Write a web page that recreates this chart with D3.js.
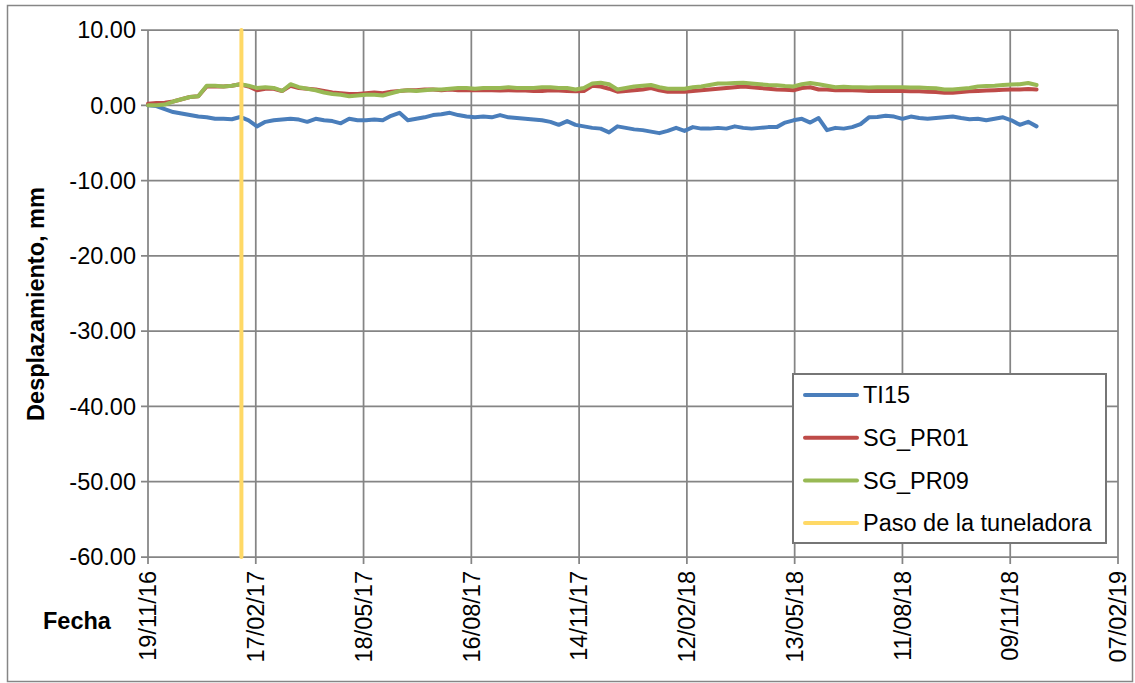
<!DOCTYPE html>
<html>
  <head>
    <meta charset="utf-8" />
    <script src="https://cdn.jsdelivr.net/npm/d3@7"></script>
    <title>Desplazamiento</title>
    <style>
      body { margin: 0; background: #fff; }
      text { font-family: "Liberation Sans", Arial, sans-serif; fill: #000; }
      .grid line { stroke: #858585; stroke-width: 1.75px; }
      .series { fill: none; stroke-width: 4px; stroke-linejoin: round; stroke-linecap: round; }
    </style>
  </head>
  <body>

    <svg id="chart" width="1135" height="683"></svg>

    <script>

      // first reading and spacing of the weekly readings (days)
      var startDate = "2016-11-19";
      var stepDays = 7;

      var ti15 = [
        0.0, -0.1, -0.5, -0.9, -1.1, -1.3, -1.5, -1.6, -1.8, -1.8,
        -1.85, -1.55, -2.0, -2.8, -2.2, -2.0, -1.9, -1.8, -1.9, -2.2,
        -1.8, -2.0, -2.1, -2.4, -1.8, -2.0, -2.0, -1.9, -2.0, -1.4,
        -1.0, -2.0, -1.8, -1.6, -1.3, -1.2, -1.0, -1.3, -1.5, -1.6,
        -1.5, -1.6, -1.3, -1.6, -1.7, -1.8, -1.9, -2.0, -2.2, -2.6,
        -2.1, -2.6, -2.8, -3.0, -3.1, -3.6, -2.8, -3.0, -3.2, -3.3,
        -3.5, -3.7, -3.4, -3.0, -3.4, -2.9, -3.1, -3.1, -3.0, -3.1,
        -2.8, -3.0, -3.1, -3.0, -2.9, -2.9, -2.3, -2.0, -1.8, -2.3,
        -1.7, -3.3, -3.0, -3.1, -2.9, -2.5, -1.6, -1.55, -1.4, -1.5,
        -1.8, -1.5, -1.7, -1.8, -1.7, -1.6, -1.5, -1.7, -1.85, -1.8,
        -2.0, -1.8, -1.6, -2.0, -2.6, -2.2, -2.8
      ];

      var sgPr01 = [
        0.2, 0.3, 0.35, 0.5, 0.8, 1.1, 1.2, 2.5, 2.5, 2.5,
        2.6, 2.8, 2.5, 2.0, 2.2, 2.2, 1.9, 2.6, 2.3, 2.2,
        2.1, 1.9, 1.7, 1.6, 1.5, 1.5, 1.6, 1.7, 1.6, 1.8,
        1.9, 2.0, 2.0, 2.1, 2.1, 2.0, 2.1, 2.0, 2.0, 2.0,
        2.0, 2.0, 1.95, 2.0, 1.95, 1.95, 1.9, 1.9, 2.0, 1.95,
        1.9, 1.85, 1.9, 2.6, 2.5, 2.2, 1.8, 1.9, 2.0, 2.1,
        2.3, 2.0, 1.8, 1.8, 1.8, 1.9, 2.0, 2.1, 2.2, 2.3,
        2.4, 2.5, 2.4, 2.3, 2.2, 2.1, 2.05, 2.0, 2.3, 2.4,
        2.1, 2.1, 2.0, 2.0, 2.0, 1.95, 1.9, 1.9, 1.9, 1.9,
        1.9, 1.85, 1.85, 1.8, 1.75, 1.65, 1.65, 1.75, 1.85, 1.9,
        1.95, 2.0, 2.05, 2.1, 2.1, 2.15, 2.1
      ];

      var sgPr09 = [
        0.0, 0.0, 0.1, 0.5, 0.8, 1.1, 1.2, 2.6, 2.6, 2.5,
        2.6, 2.8, 2.6, 2.3, 2.4, 2.3, 1.9, 2.8, 2.4, 2.2,
        2.0, 1.7, 1.5, 1.4, 1.2, 1.3, 1.4, 1.4, 1.3, 1.6,
        1.9, 2.0, 1.9, 2.0, 2.1, 2.1, 2.2, 2.3, 2.3, 2.2,
        2.3, 2.3, 2.3, 2.4, 2.3, 2.3, 2.3, 2.4, 2.4, 2.3,
        2.3, 2.1, 2.3, 2.9, 3.0, 2.8, 2.1, 2.3, 2.5, 2.6,
        2.7, 2.4, 2.2, 2.2, 2.2, 2.4, 2.5, 2.7, 2.9, 2.9,
        2.95, 3.0, 2.9, 2.8, 2.7, 2.65, 2.55, 2.5, 2.8, 2.95,
        2.8, 2.6, 2.4, 2.45, 2.4, 2.4, 2.35, 2.4, 2.4, 2.4,
        2.4, 2.35, 2.35, 2.3, 2.25, 2.1, 2.1, 2.2, 2.3, 2.5,
        2.55, 2.6, 2.7, 2.75, 2.8, 2.95, 2.7
      ];

      // passage of the tunnel boring machine
      var pasoDate = "2017-02-05";
      var pasoValues = [10, -60];

      var seriesNames = ["TI15", "SG_PR01", "SG_PR09", "Paso de la tuneladora"];
      var seriesColors = ["#4a7ebb", "#be4b48", "#98b954", "#ffd966"];

      var xTickDays = [0, 90, 180, 270, 360, 450, 540, 630, 720, 810];
      var yTicks = [10, 0, -10, -20, -30, -40, -50, -60];

      var svg = d3.select("#chart");
      var fontSize = 23.5;

      var plotLeft = 148, plotRight = 1118, plotTop = 30, plotBottom = 557;

      var parse = d3.utcParse("%Y-%m-%d");
      var start = parse(startDate);

      var x = d3.scaleUtc()
        .domain([start, d3.utcDay.offset(start, 810)])
        .range([plotLeft, plotRight]);

      var y = d3.scaleLinear()
        .domain([-60, 10])
        .range([plotBottom, plotTop]);

      function toPoints(values) {
        return values.map(function(v, i) {
          return { date: d3.utcDay.offset(start, i * stepDays), value: v };
        });
      }

      // Excel style number: plain hyphen for negatives
      function fmtNum(d) {
        return d3.format(".2f")(d).replace("\u2212", "-");
      }

      // outer chart border
      svg.append("rect")
        .attr("x", 7.5)
        .attr("y", 5.5)
        .attr("width", 1125)
        .attr("height", 676)
        .attr("fill", "none")
        .attr("stroke", "#868686")
        .attr("stroke-width", 1.5);

      var tickDates = xTickDays.map(function(d) { return d3.utcDay.offset(start, d); });

      // gridlines
      var grid = svg.append("g").attr("class", "grid");

      grid.selectAll(".hgrid")
        .data(yTicks)
        .enter().append("line")
        .attr("x1", plotLeft - 7)
        .attr("x2", plotRight)
        .attr("y1", function(d) { return y(d); })
        .attr("y2", function(d) { return y(d); });

      grid.selectAll(".vgrid")
        .data(tickDates)
        .enter().append("line")
        .attr("x1", function(d) { return x(d); })
        .attr("x2", function(d) { return x(d); })
        .attr("y1", plotTop)
        .attr("y2", plotBottom + 7);

      // y tick labels
      svg.selectAll(".ylabel")
        .data(yTicks)
        .enter().append("text")
        .attr("class", "ylabel")
        .attr("x", 136)
        .attr("y", function(d) { return y(d); })
        .attr("dy", "0.35em")
        .attr("text-anchor", "end")
        .attr("font-size", fontSize)
        .text(fmtNum);

      // x tick labels, rotated
      var fmt = d3.utcFormat("%d/%m/%y");
      svg.selectAll(".xlabel")
        .data(tickDates)
        .enter().append("text")
        .attr("class", "xlabel")
        .attr("transform", function(d) {
          return "translate(" + x(d) + "," + 571 + ") rotate(-90)";
        })
        .attr("dy", "0.35em")
        .attr("text-anchor", "end")
        .attr("font-size", fontSize)
        .text(function(d) { return fmt(d); });

      // axis titles
      svg.append("text")
        .attr("transform", "translate(36,304) rotate(-90)")
        .attr("dy", "0.35em")
        .attr("text-anchor", "middle")
        .attr("font-size", fontSize)
        .attr("font-weight", "bold")
        .text("Desplazamiento, mm");

      svg.append("text")
        .attr("x", 43)
        .attr("y", 629)
        .attr("font-size", fontSize)
        .attr("font-weight", "bold")
        .text("Fecha");

      // series
      var line = d3.line()
        .x(function(d) { return x(d.date); })
        .y(function(d) { return y(d.value); });

      var allSeries = [toPoints(ti15), toPoints(sgPr01), toPoints(sgPr09)];

      svg.selectAll(".series")
        .data(allSeries)
        .enter().append("path")
        .attr("class", "series")
        .attr("stroke", function(d, i) { return seriesColors[i]; })
        .attr("d", line);

      var paso = pasoValues.map(function(v) { return { date: parse(pasoDate), value: v }; });
      svg.append("path")
        .attr("class", "series")
        .attr("stroke", seriesColors[3])
        .attr("stroke-width", 3.5)
        .attr("stroke-linecap", "butt")
        .attr("d", line(paso));

      // legend
      var legend = svg.append("g");
      legend.append("rect")
        .attr("x", 793)
        .attr("y", 374)
        .attr("width", 313)
        .attr("height", 169)
        .attr("fill", "#fff")
        .attr("stroke", "#767676")
        .attr("stroke-width", 2);

      var items = legend.selectAll(".item")
        .data(seriesNames)
        .enter().append("g")
        .attr("transform", function(d, i) { return "translate(0," + (395 + i * 42.7) + ")"; });

      items.append("line")
        .attr("x1", 805)
        .attr("x2", 857)
        .attr("stroke", function(d, i) { return seriesColors[i]; })
        .attr("stroke-width", 4)
        .attr("stroke-linecap", "round");

      items.append("text")
        .attr("x", 863)
        .attr("dy", "0.35em")
        .attr("font-size", fontSize)
        .text(function(d) { return d; });

    </script>

  </body>
</html>
